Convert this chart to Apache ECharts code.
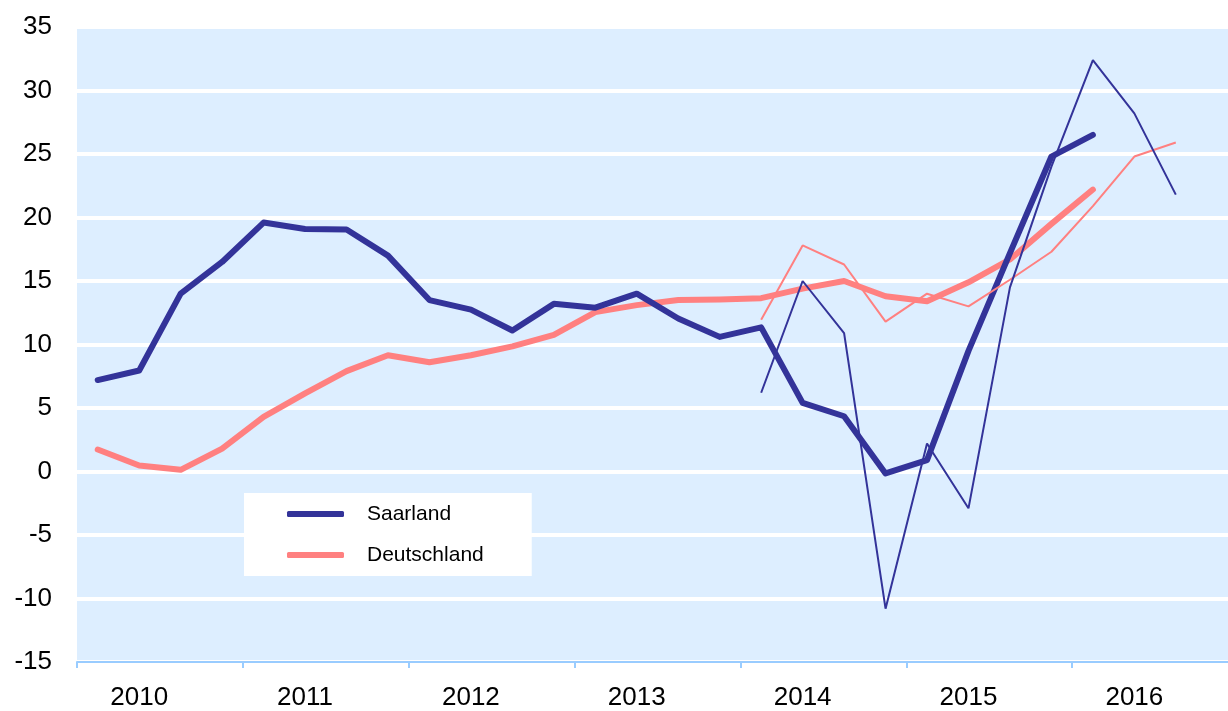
<!DOCTYPE html>
<html>
<head>
<meta charset="utf-8">
<script src="https://cdn.jsdelivr.net/npm/echarts@6/dist/echarts.min.js"></script>
<style>
html,body{margin:0;padding:0;background:#fff;overflow:hidden;width:1228px;height:711px;}
#c{width:1238px;height:711px;}
</style>
</head>
<body>
<div id="c"></div>
<script>
var years = ['2010','2011','2012','2013','2014','2015','2016'];
var quarterNames = ['Q1','Q2','Q3','Q4'];
var yTicks = { min: -15, max: 35, interval: 5 };

var saarland = [7.2, 7.95, 14.0, 16.5, 19.6, 19.1, 19.05, 17.0, 13.5, 12.75, 11.1, 13.2, 12.9, 14.0, 12.05, 10.6, 11.35, 5.4, 4.35, -0.15, 0.9, 9.5, 17.2, 24.8, 26.5, null, null, null];
var deutschland = [1.73, 0.47, 0.13, 1.8, 4.3, 6.15, 7.9, 9.15, 8.6, 9.15, 9.85, 10.75, 12.55, 13.1, 13.5, 13.55, 13.65, 14.4, 15.0, 13.8, 13.4, 14.9, 16.7, 19.5, 22.2, null, null, null];
var saarlandQ = [null, null, null, null, null, null, null, null, null, null, null, null, null, null, null, null, 6.2, 15.0, 10.9, -10.8, 2.2, -2.9, 14.5, 24.0, 32.4, 28.2, 21.8, null];
var deutschlandQ = [null, null, null, null, null, null, null, null, null, null, null, null, null, null, null, null, 11.95, 17.8, 16.3, 11.8, 14.0, 13.0, 15.1, 17.3, 20.9, 24.8, 25.9, null];

var categories = [];
years.forEach(function (y) { quarterNames.forEach(function (q) { categories.push(y + ' ' + q); }); });

var BLUE = '#333399', PINK = '#ff8080';
var FONT = '"Liberation Sans", Arial, sans-serif';

var chart = echarts.init(document.getElementById('c'), null, { renderer: 'canvas' });
chart.setOption({
  animation: false,
  backgroundColor: '#ffffff',
  grid: {
    left: 77, right: 0, top: 27, bottom: 48,
    show: true, backgroundColor: '#ddeeff', borderWidth: 0
  },
  legend: {
    data: ['Saarland', 'Deutschland'],
    orient: 'vertical',
    left: 244, top: 493,
    backgroundColor: '#ffffff',
    padding: [10, 48, 10, 43],
    itemWidth: 57, itemHeight: 6,
    itemGap: 19,
    icon: 'roundRect',
    textStyle: { fontFamily: FONT, fontSize: 21, color: '#000', lineHeight: 22, padding: [0, 0, 0, 18] }
  },
  xAxis: {
    type: 'category',
    data: categories,
    boundaryGap: true,
    axisLine: { show: true, onZero: false, lineStyle: { color: '#99ccff', width: 2 } },
    axisTick: {
      show: true, length: 6, lineStyle: { color: '#99ccff', width: 2 },
      interval: function (i) { return i % 4 === 0; }
    },
    axisLabel: {
      interval: function (i) { return i % 4 === 1; },
      formatter: function (v) { return v.split(' ')[0]; },
      fontFamily: FONT, fontSize: 26, color: '#000', margin: 23
    },
    splitLine: { show: false }
  },
  yAxis: {
    type: 'value',
    min: yTicks.min, max: yTicks.max, interval: yTicks.interval,
    axisLine: { show: false },
    axisTick: { show: false },
    axisLabel: { fontFamily: FONT, fontSize: 26, color: '#000', margin: 25 },
    splitLine: { show: true, lineStyle: { color: '#ffffff', width: 4 } }
  },
  series: [
    { name: 'Deutschland', type: 'line', data: deutschland, symbol: 'none', z: 2,
      lineStyle: { color: PINK, width: 6, cap: 'round', join: 'round' }, itemStyle: { color: PINK } },
    { name: 'Saarland', type: 'line', data: saarland, symbol: 'none', z: 3,
      lineStyle: { color: BLUE, width: 6, cap: 'round', join: 'round' }, itemStyle: { color: BLUE } },
    { name: 'Deutschland (Quartal)', type: 'line', data: deutschlandQ, symbol: 'none', z: 4,
      lineStyle: { color: PINK, width: 2 }, itemStyle: { color: PINK } },
    { name: 'Saarland (Quartal)', type: 'line', data: saarlandQ, symbol: 'none', z: 5,
      lineStyle: { color: BLUE, width: 2 }, itemStyle: { color: BLUE } }
  ]
});
</script>
</body>
</html>
